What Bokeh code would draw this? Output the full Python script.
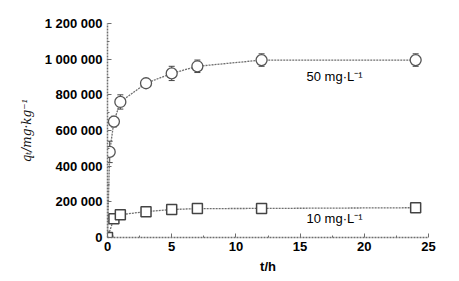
from bokeh.plotting import figure
from bokeh.models import ColumnDataSource, FixedTicker, Whisker, Range1d
from bokeh.core.properties import value
from bokeh.embed import file_html
from bokeh.resources import INLINE

# Data
t50 = [0, 0.17, 0.5, 1, 3, 5, 7, 12, 24]
q50 = [0, 480000, 650000, 760000, 865000, 920000, 960000, 995000, 995000]
err50 = [0, 60000, 30000, 40000, 15000, 40000, 35000, 35000, 35000]

t10 = [0, 0.5, 1, 3, 5, 7, 12, 24]
q10 = [0, 105000, 128000, 145000, 157000, 162000, 163000, 167000]
err10 = [0, 0, 0, 0, 8000, 8000, 8000, 0]

y_ticks = [0, 200000, 400000, 600000, 800000, 1000000, 1200000]
y_labels = ["0", "200 000", "400 000", "600 000", "800 000", "1 000 000", "1 200 000"]
x_ticks = [0, 5, 10, 15, 20, 25]

labels_text = ["50 mg·L⁻¹", "10 mg·L⁻¹"]
labels_x = [15.5, 15.5]
labels_y = [905000, 105000]

p = figure(width=459, height=281, output_backend="svg", toolbar_location=None,
           x_range=Range1d(0, 25), y_range=Range1d(0, 1200000),
           min_border_left=107, min_border_right=31, min_border_top=23, min_border_bottom=44)
p.frame_width = 321
p.frame_height = 214
p.outline_line_color = None
p.grid.visible = False
p.background_fill_color = "white"
p.border_fill_color = "white"

lc = "#6e6e6e"
for ax in (p.xaxis[0], p.yaxis[0]):
    ax.axis_line_color = lc
    ax.axis_line_dash = "2 1"
    ax.axis_line_width = 1.5
    ax.major_tick_in = 4
    ax.major_tick_out = 0
    ax.minor_tick_in = 2
    ax.minor_tick_out = 0
    ax.major_tick_line_color = lc
    ax.minor_tick_line_color = lc
    ax.major_label_text_font = "Liberation Sans"
    ax.major_label_text_font_size = "13px"
    ax.major_label_text_font_style = "bold"
    ax.major_label_text_color = "#000000"

p.yaxis.ticker = FixedTicker(ticks=y_ticks,
                             minor_ticks=[v + 100000 for v in y_ticks[:-1]])
p.yaxis.major_label_overrides = {v: s for v, s in zip(y_ticks, y_labels)}
p.yaxis.major_label_standoff = 5
p.xaxis.ticker = FixedTicker(ticks=x_ticks, minor_ticks=[2.5, 7.5, 12.5, 17.5, 22.5])
p.xaxis.major_label_standoff = 4

p.xaxis.axis_label = "t/h"
p.xaxis.axis_label_text_font = "Liberation Sans"
p.xaxis.axis_label_text_font_style = "bold"
p.xaxis.axis_label_text_font_size = "13px"
p.xaxis.axis_label_text_color = "#000000"
p.xaxis.axis_label_standoff = 5
p.yaxis.axis_label = "qₜ/mg·kg⁻¹"
p.yaxis.axis_label_text_font = "DejaVu Serif"
p.yaxis.axis_label_text_font_style = "italic"
p.yaxis.axis_label_text_font_size = "12px"
p.yaxis.axis_label_text_color = "#111111"
p.yaxis.axis_label_standoff = 8

s50 = ColumnDataSource(dict(t=t50, q=q50, lo=[a - b for a, b in zip(q50, err50)],
                            hi=[a + b for a, b in zip(q50, err50)]))
s10 = ColumnDataSource(dict(t=t10, q=q10, lo=[a - b for a, b in zip(q10, err10)],
                            hi=[a + b for a, b in zip(q10, err10)]))

p.line("t", "q", source=s50, line_color=lc, line_dash="2 1", line_width=1.3)
p.line("t", "q", source=s10, line_color=lc, line_dash="2 1", line_width=1.3)

for s in (s50, s10):
    w = Whisker(source=s, base="t", lower="lo", upper="hi", line_color="#444444", line_width=1)
    w.upper_head.size = 6
    w.lower_head.size = 6
    w.upper_head.line_color = "#444444"
    w.lower_head.line_color = "#444444"
    p.add_layout(w)

p.scatter("t", "q", source=s50, marker="circle", size=11, fill_color="white",
          line_color="#555555", line_width=1.3)
p.scatter("t", "q", source=s10, marker="square", size=10, fill_color="white",
          line_color="#444444", line_width=1.5)

p.text(x=labels_x, y=labels_y, text=labels_text, text_font=value("Liberation Sans"),
       text_font_size="13px", text_color="#000000",
       text_baseline="middle", text_align="left")

open("out.html", "w").write(file_html(p, INLINE))
